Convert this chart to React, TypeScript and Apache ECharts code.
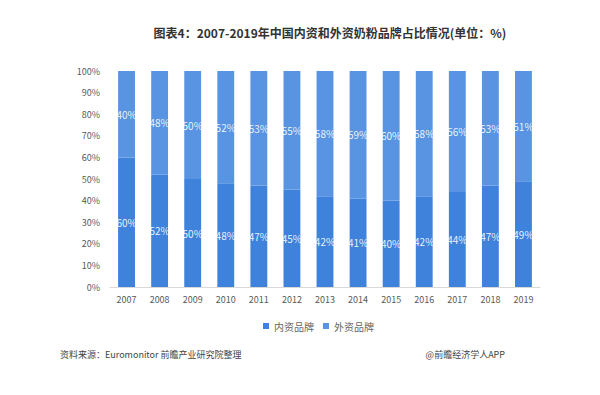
import React, { useEffect, useRef } from "react";
import * as echarts from "echarts";

const years = ["2007","2008","2009","2010","2011","2012","2013","2014","2015","2016","2017","2018","2019"];
const domestic = [60, 52, 50, 48, 47, 45, 42, 41, 40, 42, 44, 47, 49];
const foreign = [40, 48, 50, 52, 53, 55, 58, 59, 60, 58, 56, 53, 51];
const yTicks = [0, 10, 20, 30, 40, 50, 60, 70, 80, 90, 100];

export default function App() {
  const ref = useRef<HTMLDivElement>(null);
  useEffect(() => {
    const chart = echarts.init(ref.current!, null, { renderer: "svg" });
    const font = "'Noto Sans CJK SC', 'Noto Sans', sans-serif";
    const label = {
      show: true,
      position: "inside" as const,
      color: "rgba(255,255,255,0.9)",
      fontSize: 10,
      fontFamily: font,
      formatter: (p: any) => p.value + "%",
    };
    chart.setOption({
      animation: false,
      backgroundColor: "#ffffff",
      title: {
        text: "图表4：2007-2019年中国内资和外资奶粉品牌占比情况(单位：%)",
        left: 325,
        textAlign: "center",
        top: 21,
        textStyle: { fontSize: 12, fontWeight: "bold", color: "#333", fontFamily: font },
      },
      legend: {
        data: ["内资品牌", "外资品牌"],
        top: 316,
        left: 258,
        itemWidth: 6,
        itemHeight: 6,
        itemGap: 9,
        icon: "rect",
        textStyle: { fontSize: 10, color: "#666", fontFamily: font },
      },
      grid: { left: 110, right: 60, top: 71, bottom: 108 },
      xAxis: {
        type: "category",
        data: years,
        axisLine: { lineStyle: { color: "#d9d9d9" } },
        axisTick: { show: false },
        axisLabel: { color: "#595959", fontSize: 9, margin: 8, fontFamily: font },
      },
      yAxis: {
        type: "value",
        min: yTicks[0],
        max: yTicks[yTicks.length - 1],
        interval: 10,
        axisLine: { show: false },
        axisTick: { show: false },
        splitLine: { show: false },
        axisLabel: { color: "#595959", fontSize: 9, margin: 10, formatter: "{value}%", fontFamily: font },
      },
      series: [
        {
          name: "内资品牌",
          type: "bar",
          stack: "t",
          data: domestic,
          barWidth: "51%",
          itemStyle: { color: "#3f82dc" },
          label,
        },
        {
          name: "外资品牌",
          type: "bar",
          stack: "t",
          data: foreign,
          barWidth: "51%",
          itemStyle: { color: "#5894e1" },
          label,
        },
      ],
      graphic: [
        {
          type: "text",
          left: 60,
          top: 350,
          style: { text: "资料来源：Euromonitor 前瞻产业研究院整理", fontSize: 9, fill: "#444", fontFamily: font },
        },
        {
          type: "text",
          right: 95,
          top: 350,
          style: { text: "@前瞻经济学人APP", fontSize: 9, fill: "#444", fontFamily: font },
        },
      ],
    });
    return () => chart.dispose();
  }, []);
  return <div ref={ref} style={{ position: "absolute", left: 0, top: 0, width: 600, height: 395 }} />;
}
